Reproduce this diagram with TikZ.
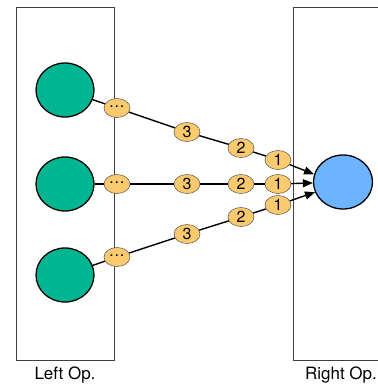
\documentclass[tikz,border=0pt]{standalone}
\usepackage{fontspec}
\setmainfont{TeX Gyre Heros}
\usetikzlibrary{shapes.geometric,arrows.meta}
\definecolor{opgreen}{RGB}{0,182,146}
\definecolor{opblue}{RGB}{108,180,255}
\definecolor{tokfill}{RGB}{252,202,110}
\tikzset{
  opbox/.style ={draw=black!75,line width=0.8pt},
  lop/.style   ={ellipse,draw,line width=1.3pt,fill=opgreen,minimum width=58pt,minimum height=54pt},
  rop/.style   ={ellipse,draw,line width=1.3pt,fill=opblue,minimum width=59pt,minimum height=54pt},
  tok/.style   ={ellipse,draw=black!70,line width=0.5pt,fill=tokfill,inner sep=0pt,
                 minimum width=26pt,minimum height=19pt,font=\fontsize{16}{16}\selectfont},
  lnk/.style   ={draw,line width=1.4pt},
  lab/.style   ={font=\fontsize{17}{17}\selectfont},
}

\begin{document}
\begin{tikzpicture}[x=1pt,y=-1pt]
  \useasboundingbox (0,0) rectangle (378,384);
  % the two operators
  \draw[opbox] (16,7) rectangle (114,360);
  \draw[opbox] (293,7) rectangle (400,360);
  \node[lab] (ll) at (65,375) {Left Op.};
  \node[lab] (rl) at (341,375) {Right Op.};

  \node[lop] (g1) at (65,90) {};
  \node[lop] (g2) at (65,184) {};
  \node[lop] (g3) at (65,275) {};
  \node[rop] (b) at (343,182) {};

  % queued tuples, newest first
  \node[tok] (d1) at (117,108) {\raisebox{3pt}{\dots}};
  \node[tok] (d2) at (117,184) {\raisebox{3pt}{\dots}};
  \node[tok] (d3) at (117,257) {\raisebox{3pt}{\dots}};
  \node[tok] (a3) at (187,132) {3};
  \node[tok] (a2) at (241,148) {2};
  \node[tok] (a1) at (278,160) {1};
  \node[tok] (m3) at (187,184) {3};
  \node[tok] (m2) at (241,184) {2};
  \node[tok] (m1) at (278,184) {1};
  \node[tok] (c3) at (187,234) {3};
  \node[tok] (c2) at (241,217) {2};
  \node[tok] (c1) at (278,205) {1};

  \draw[lnk] (g1) -- (d1) -- (a3) -- (a2) -- (a1);
  \draw[lnk] (g2) -- (d2) -- (m3) -- (m2) -- (m1);
  \draw[lnk] (g3) -- (d3) -- (c3) -- (c2) -- (c1);
  \draw[lnk,-{Triangle[length=10pt,width=8pt]}] (a1) -- (b.165);
  \draw[lnk,-{Triangle[length=10pt,width=8pt]}] (m1) -- (b);
  \draw[lnk,-{Triangle[length=10pt,width=8pt]}] (c1) -- (b.200);
\end{tikzpicture}
\end{document}
